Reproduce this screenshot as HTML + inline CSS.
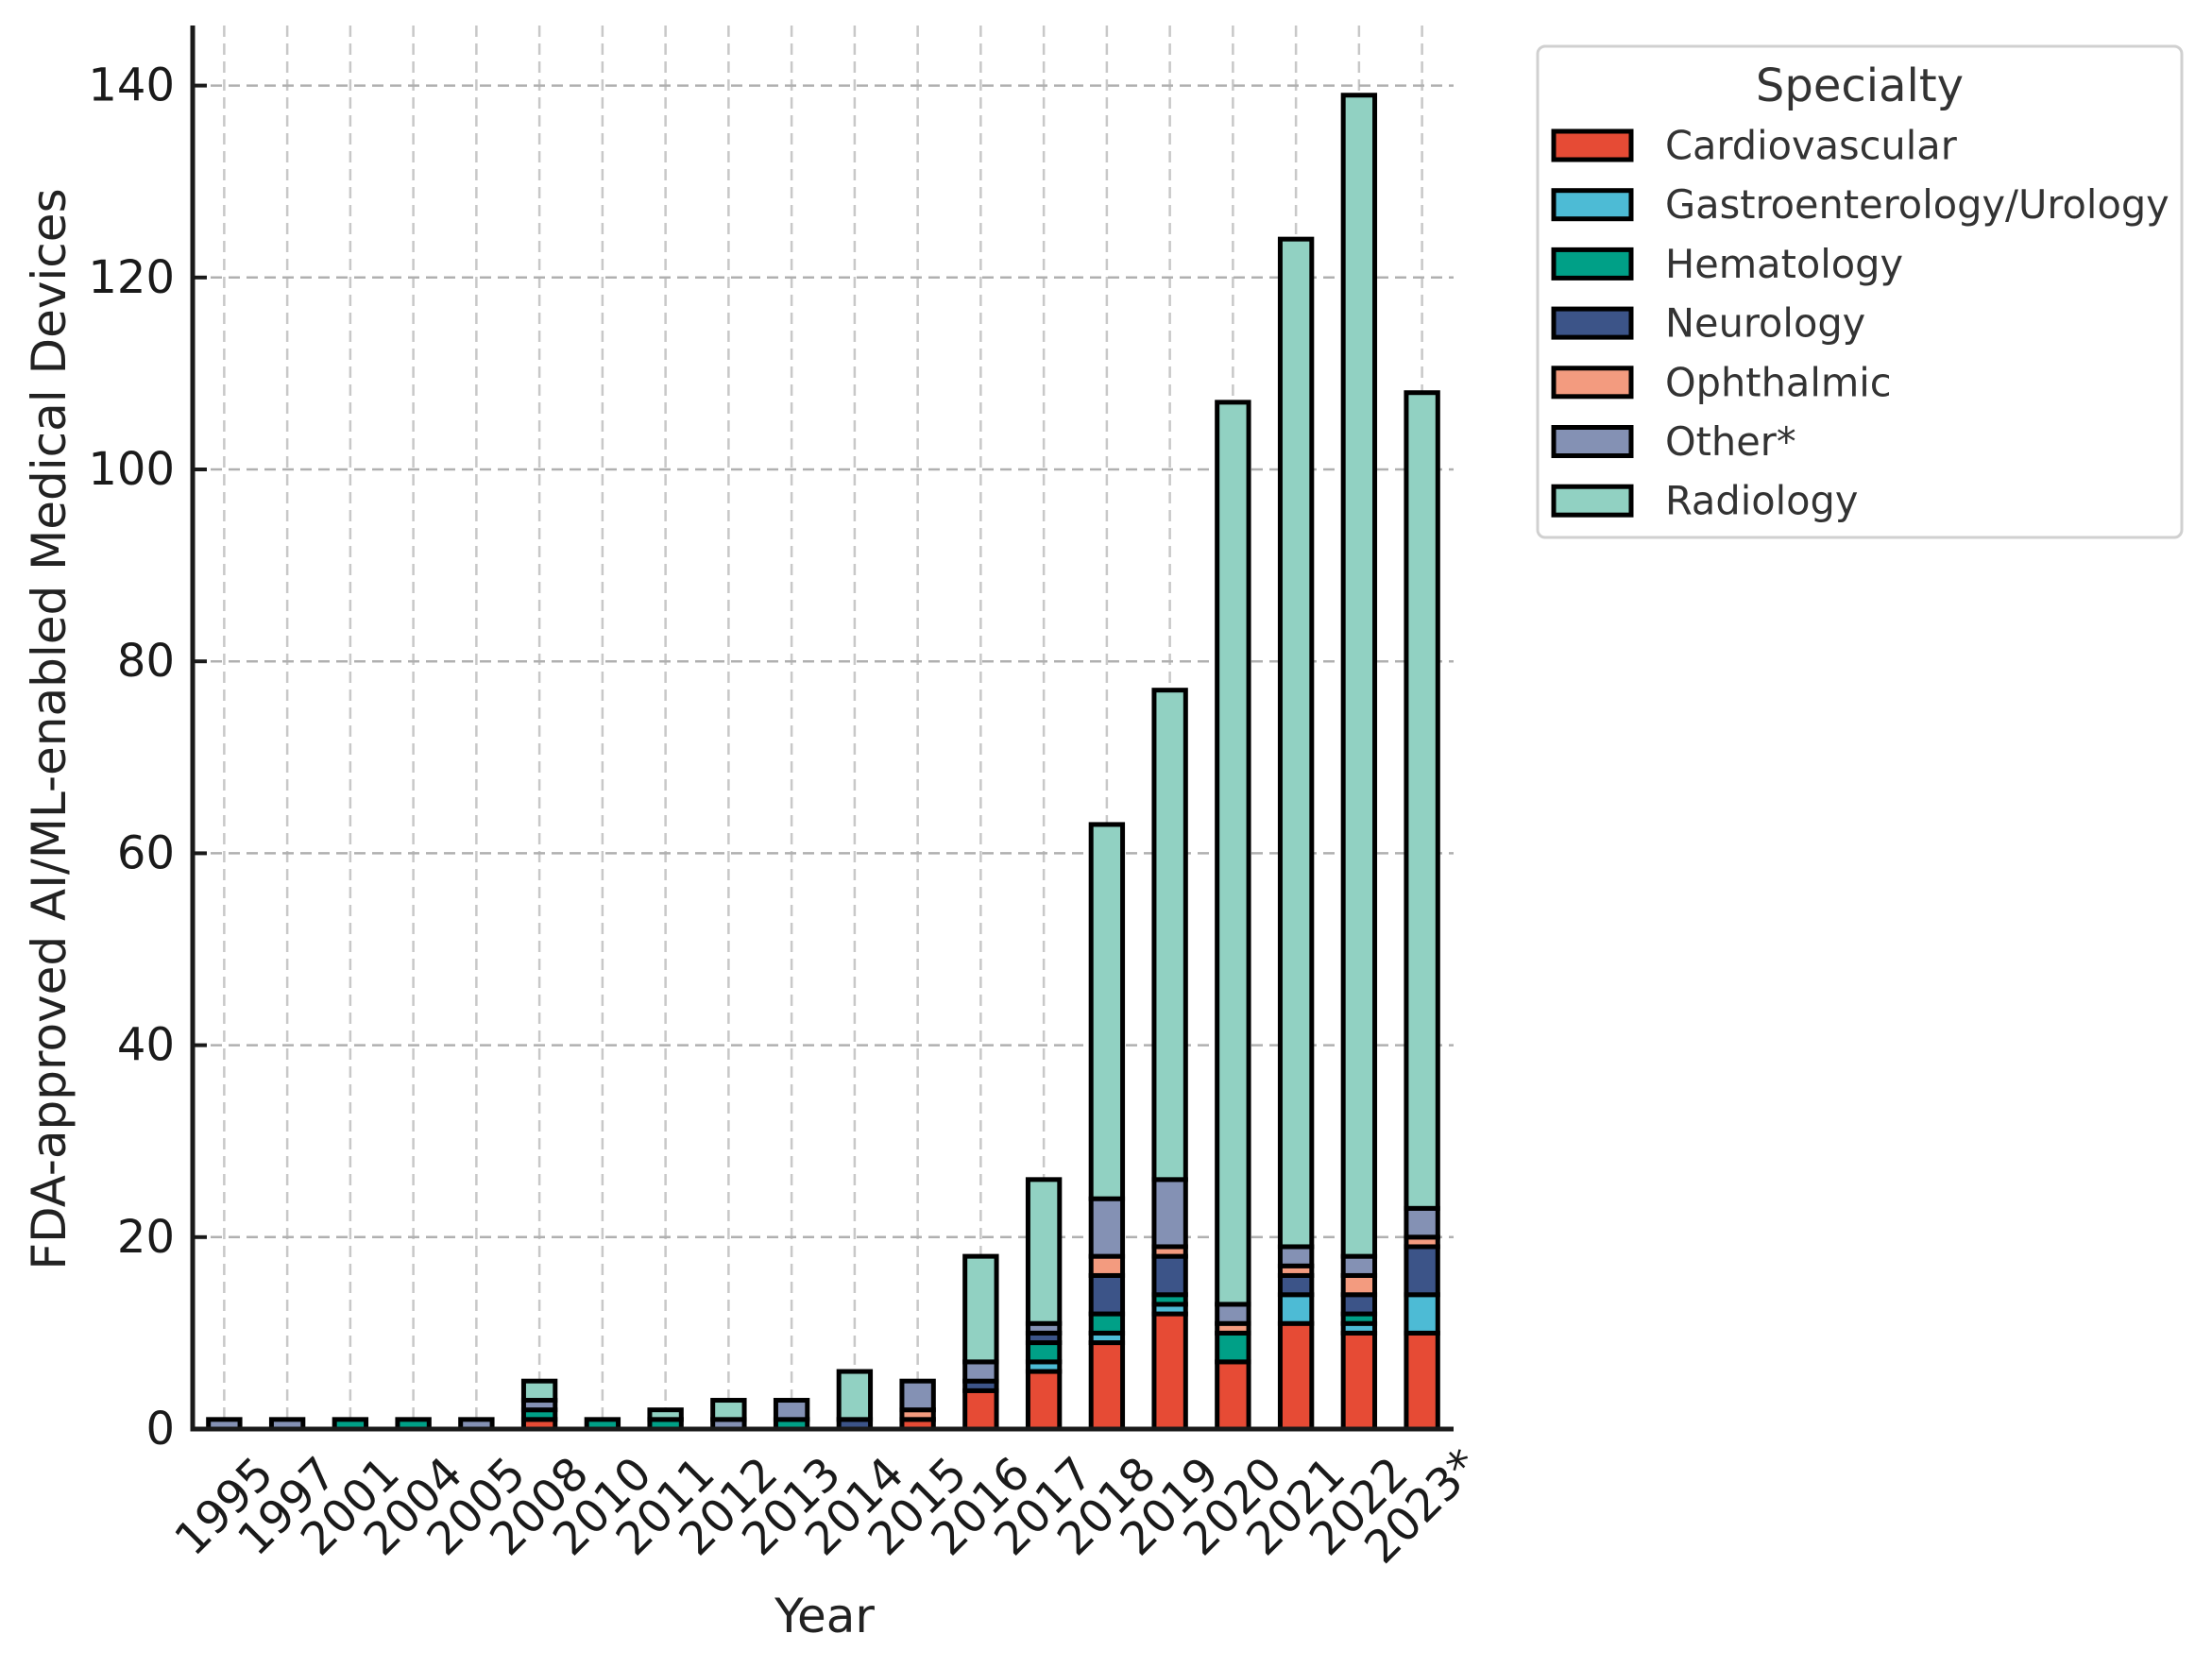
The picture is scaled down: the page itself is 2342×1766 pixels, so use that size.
<!DOCTYPE html>
<html><head><meta charset="utf-8">
<style>
html,body{margin:0;padding:0;background:#fff;}
svg{display:block;font-family:"DejaVu Sans","Liberation Sans",sans-serif;}
</style></head>
<body>
<svg id="chart" width="2342" height="1766" viewBox="0 0 2342 1766" xmlns="http://www.w3.org/2000/svg">
  <g id="grid"></g>
  <g id="bars"></g>
  <g id="axes"></g>
  <text x="0" y="0" font-size="50" fill="#222" text-anchor="middle" dominant-baseline="central" transform="translate(52,772) rotate(-90)">FDA-approved AI/ML-enabled Medical Devices</text>
  <text x="873" y="1711" font-size="50" fill="#222" text-anchor="middle" dominant-baseline="central">Year</text>
  <g id="legend">
    <rect x="1628" y="49" width="682" height="520" rx="8" fill="#fff" stroke="#d0d0d0" stroke-width="3"/>
    <text x="1969" y="91" font-size="48" fill="#333" text-anchor="middle" dominant-baseline="central">Specialty</text>
  </g>
</svg>
<script>
const years = ["1995","1997","2001","2004","2005","2008","2010","2011","2012","2013","2014","2015","2016","2017","2018","2019","2020","2021","2022","2023*"];
const specialties = ["Cardiovascular","Gastroenterology/Urology","Hematology","Neurology","Ophthalmic","Other*","Radiology"];
const colors = ["#E64B35","#4DBBD5","#00A087","#3C5488","#F39B7F","#8491B4","#91D1C2"];
const cardiovascular = [0,0,0,0,0,1,0,0,0,0,0,1,4,6,9,12,7,11,10,10];
const gastroUrology  = [0,0,0,0,0,0,0,0,0,0,0,0,0,1,1,1,0,3,1,4];
const hematology     = [0,0,1,1,0,1,1,1,0,1,0,0,0,2,2,1,3,0,1,0];
const neurology      = [0,0,0,0,0,0,0,0,0,0,1,0,1,1,4,4,0,2,2,5];
const ophthalmic     = [0,0,0,0,0,0,0,0,0,0,0,1,0,0,2,1,1,1,2,1];
const other          = [1,1,0,0,1,1,0,0,1,2,0,3,2,1,6,7,2,2,2,3];
const radiology      = [0,0,0,0,0,2,0,1,2,0,5,0,11,15,39,51,94,105,121,85];
const yTicks = [0,20,40,60,80,100,120,140];

const series = [cardiovascular,gastroUrology,hematology,neurology,ophthalmic,other,radiology];
const NS = "http://www.w3.org/2000/svg";
const X0 = 204, X1 = 1539, Y0 = 1513, PXU = 10.16;
const step = (X1 - X0) / years.length;
function xScale(i){ return X0 + step * (i + 0.5); }
function yScale(v){ return Y0 - v * PXU; }
function mk(tag, attrs, parent){ const e = document.createElementNS(NS, tag); for (const k in attrs) e.setAttribute(k, attrs[k]); parent.appendChild(e); return e; }

const grid = document.getElementById('grid');
const bars = document.getElementById('bars');
const axes = document.getElementById('axes');

years.forEach((y, i) => {
  const l = mk('line', {x1: xScale(i), x2: xScale(i), y1: 27, y2: Y0, stroke: '#c8c8c8', 'stroke-width': 2.5, 'stroke-dasharray': '12,7'}, grid);
  
  
});
yTicks.forEach(t => {
  if (t === 0) return;
  const l = mk('line', {x1: X0, x2: X1, y1: yScale(t), y2: yScale(t), stroke: '#b0b0b0', 'stroke-width': 2.5, 'stroke-dasharray': '12,7'}, grid);
  
  
});

const bw = step * 0.5;
years.forEach((y, i) => {
  let base = 0;
  series.forEach((s, k) => {
    const v = s[i];
    if (v <= 0) return;
    const r = mk('rect', {x: xScale(i) - bw / 2, y: yScale(base + v), width: bw, height: v * PXU, fill: colors[k], stroke: '#000', 'stroke-width': 5}, bars);
    
    
    base += v;
  });
});

const ls = mk('line', {x1: X0, x2: X0, y1: 27, y2: Y0 + 2.5, stroke: '#1a1a1a', 'stroke-width': 5}, axes);


const bs = mk('line', {x1: X0 - 2.5, x2: X1, y1: Y0, y2: Y0, stroke: '#1a1a1a', 'stroke-width': 5}, axes);


yTicks.forEach(t => {
  const tk = mk('line', {x1: X0, x2: X0 + 15, y1: yScale(t), y2: yScale(t), stroke: '#1a1a1a', 'stroke-width': 4}, axes);
  
  
  const tx = mk('text', {x: 185, y: yScale(t), 'font-size': 48, fill: '#1a1a1a', 'text-anchor': 'end', 'dominant-baseline': 'central'}, axes);
  
  
  tx.textContent = t;
});
years.forEach((y, i) => {
  const cx = xScale(i), cy = 1595;
  const tx = mk('text', {x: 0, y: 0, 'font-size': 48, fill: '#1a1a1a', 'text-anchor': 'middle', 'dominant-baseline': 'central', transform: `translate(${cx},${cy}) rotate(-45)`}, axes);
  
  
  tx.textContent = y;
});

const legend = document.getElementById('legend');
specialties.forEach((name, k) => {
  const cy = 154 + k * 62.7;
  const p = mk('rect', {x: 1645, y: cy - 15, width: 82, height: 30, fill: colors[k], stroke: '#000', 'stroke-width': 5}, legend);
  
  
  const t = mk('text', {x: 1763, y: cy, 'font-size': 41.5, fill: '#333', 'dominant-baseline': 'central'}, legend);
  
  
  t.textContent = name;
});
</script>
</body></html>
